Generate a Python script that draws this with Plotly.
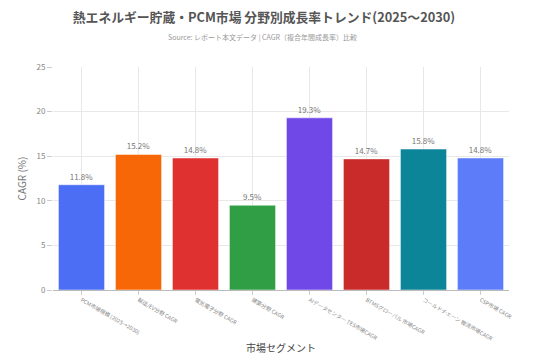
import plotly.graph_objects as go

categories = [
    "PCM市場規模 (2025→2030)",
    "輸送/EV分野 CAGR",
    "電気電子分野 CAGR",
    "建築分野 CAGR",
    "AIデータセンター TES市場CAGR",
    "BTMSグローバル 市場CAGR",
    "コールドチェーン 物流市場CAGR",
    "CSP市場 CAGR",
]
values = [11.8, 15.2, 14.8, 9.5, 19.3, 14.7, 15.8, 14.8]
colors = ["#4C6EF5", "#F76707", "#E03131", "#2F9E44", "#7048E8", "#C92A2A", "#0C8599", "#5C7CFA"]
y_ticks = [0, 5, 10, 15, 20, 25]

FONT = "Noto Sans CJK JP, Noto Sans, sans-serif"

W, H = 536, 357
plot_top, plot_bottom = 67, 290
plot_h = plot_bottom - plot_top

fig = go.Figure(go.Bar(
    x=categories,
    y=values,
    marker=dict(color=colors, line=dict(color="rgba(255,255,255,0.5)", width=1)),
    text=[f"{v}%" for v in values],
    textposition="outside",
    textfont=dict(size=8, color="#777", family=FONT),
    cliponaxis=False,
))

fig.update_layout(
    width=W, height=H,
    margin=dict(l=53, r=27, t=plot_top, b=H - plot_bottom),
    paper_bgcolor="white",
    plot_bgcolor="white",
    bargap=0.19,
    showlegend=False,
    font=dict(family=FONT, color="#555"),
    title=dict(
        text="<b>熱エネルギー貯蔵・PCM市場 分野別成長率トレンド(2025〜2030)</b>",
        x=264 / W, xanchor="center", y=1 - 18 / H, yanchor="middle",
        font=dict(size=12.8, color="#555", family=FONT),
    ),
    annotations=[
        dict(text="Source: レポート本文データ | CAGR（複合年間成長率）比較",
             xref="paper", yref="paper", x=(262 - 53) / (W - 53 - 27), y=(plot_bottom - 37) / plot_h,
             xanchor="center", yanchor="middle", showarrow=False,
             font=dict(size=7, color="#999", family=FONT)),
        dict(text="市場セグメント",
             xref="paper", yref="paper", x=0.5, y=(plot_bottom - 347) / plot_h,
             xanchor="center", yanchor="middle", showarrow=False,
             font=dict(size=10, color="#444", family=FONT)),
    ],
    xaxis=dict(
        tickangle=30,
        tickfont=dict(size=5.4, color="#888", family=FONT),
        showgrid=True, gridcolor="#e8e8e8",
        showline=True, linecolor="#bbb", linewidth=1,
        ticks="outside", ticklen=4, tickcolor="#ccc",
        automargin=False,
    ),
    yaxis=dict(
        range=[0, 25],
        tickvals=y_ticks,
        tickfont=dict(size=8, color="#888", family=FONT),
        showgrid=True, gridcolor="#e8e8e8",
        zeroline=False,
        ticks="outside", ticklen=5, tickcolor="#ccc",
        automargin=False,
        title=dict(text="CAGR (%)", font=dict(size=10, color="#777", family=FONT), standoff=8),
    ),
)

fig.write_html(
    "out.html",
    config={"displayModeBar": False},
    post_script="document.body.style.margin='0';document.body.style.overflow='hidden';",
)
